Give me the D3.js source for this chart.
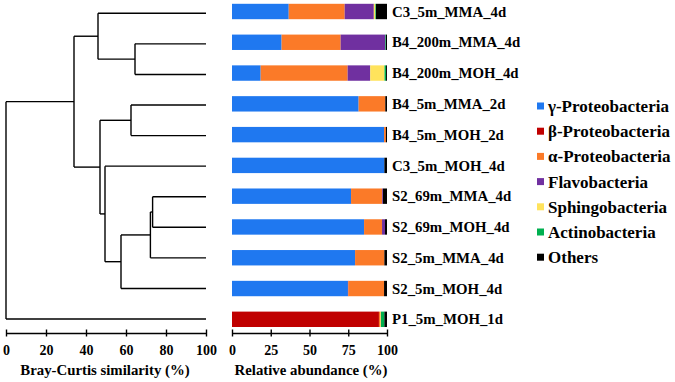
<!DOCTYPE html>
<html>
<head>
<meta charset="utf-8">
<script src="https://cdn.jsdelivr.net/npm/d3@7"></script>
<style>
  body { margin: 0; background: #fff; }
  svg { display: block; font-family: "Liberation Serif", "Times New Roman", serif; font-weight: bold; }
</style>
</head>
<body>
<svg id="chart" width="675" height="382"></svg>
<script>
// samples, top to bottom
var samples = ["C3_5m_MMA_4d", "B4_200m_MMA_4d", "B4_200m_MOH_4d", "B4_5m_MMA_2d", "B4_5m_MOH_2d",
  "C3_5m_MOH_4d", "S2_69m_MMA_4d", "S2_69m_MOH_4d", "S2_5m_MMA_4d", "S2_5m_MOH_4d", "P1_5m_MOH_1d"];

var groups = ["γ-Proteobacteria", "β-Proteobacteria", "α-Proteobacteria", "Flavobacteria",
  "Sphingobacteria", "Actinobacteria", "Others"];
var colors = ["#1f78f0", "#c00000", "#fb7a28", "#7030a0", "#ffe35c", "#00b050", "#000000"];

// relative abundance (%) per group, same order as samples
var gamma   = [36.6, 32.0, 18.5, 81.7, 98.1, 98.3, 76.8, 85.2, 79.4, 74.8, 0];
var beta    = [0, 0, 0, 0, 0, 0, 0, 0, 0, 0.3, 94.8];
var alpha   = [36.1, 38.1, 56.1, 17.2, 1.2, 0, 20.1, 11.6, 18.9, 23.0, 1.0];
var flavo   = [18.8, 28.8, 14.6, 0, 0, 0, 0.5, 1.9, 0, 0, 0];
var sphingo = [1.0, 0, 9.2, 0, 0, 0, 0, 0, 0, 0, 0.3];
var actino  = [0.4, 0.4, 1.0, 0, 0, 0, 0, 0, 0, 0, 2.2];
var others  = [7.1, 0.7, 0.6, 1.1, 0.7, 1.7, 2.6, 1.3, 1.7, 1.9, 1.7];

// Bray-Curtis clustering (merge similarity %)
var dendro = {h: 0, c: [
  {h: 34, c: [
    {h: 46, c: ["C3_5m_MMA_4d", {h: 64.5, c: ["B4_200m_MMA_4d", "B4_200m_MOH_4d"]}]},
    {h: 47, c: [
      {h: 62.5, c: ["B4_5m_MMA_2d", "B4_5m_MOH_2d"]},
      {h: 49.5, c: ["C3_5m_MOH_4d",
        {h: 57.5, c: [
          {h: 72.2, c: [{h: 73.3, c: ["S2_69m_MMA_4d", "S2_69m_MOH_4d"]}, "S2_5m_MMA_4d"]},
          "S2_5m_MOH_4d"]}]}]}]},
  "P1_5m_MOH_1d"]};

var simTicks = [0, 20, 40, 60, 80, 100];
var abTicks = [0, 25, 50, 75, 100];

var data = samples.map(function(s, i) {
  return {sample: s, "γ-Proteobacteria": gamma[i], "β-Proteobacteria": beta[i], "α-Proteobacteria": alpha[i],
    "Flavobacteria": flavo[i], "Sphingobacteria": sphingo[i], "Actinobacteria": actino[i], "Others": others[i]};
});

var svg = d3.select("#chart");

var y = d3.scaleBand().domain(samples).range([3.8, 327]).paddingInner(0.5).paddingOuter(0);
var yLeaf = d3.scalePoint().domain(samples).range([13.3, 319]);
var xd = d3.scaleLinear().domain([0, 100]).range([6, 206]);
var xb = d3.scaleLinear().domain([0, 100]).range([232, 387]);
var z = d3.scaleOrdinal().domain(groups).range(colors);
var axisY = 333;

// dendrogram
var dg = svg.append("g").attr("fill", "none").attr("stroke", "#000").attr("stroke-width", 1.4);
function nodeY(n) {
  if (typeof n === "string") return yLeaf(n);
  var ys = n.c.map(nodeY);
  return (ys[0] + ys[ys.length - 1]) / 2;
}
function nodeH(n) { return typeof n === "string" ? 100 : n.h; }
function drawNode(n) {
  if (typeof n === "string") return;
  var ys = n.c.map(nodeY);
  dg.append("line").attr("x1", xd(n.h)).attr("x2", xd(n.h)).attr("y1", ys[0]).attr("y2", ys[ys.length - 1]);
  n.c.forEach(function(ch, i) {
    dg.append("line").attr("x1", xd(n.h)).attr("x2", xd(nodeH(ch))).attr("y1", ys[i]).attr("y2", ys[i]);
    drawNode(ch);
  });
}
drawNode(dendro);

// stacked bars
var series = d3.stack().keys(groups)(data);
svg.append("g").selectAll("g")
  .data(series)
  .enter().append("g")
    .attr("fill", function(d) { return z(d.key); })
  .selectAll("rect")
  .data(function(d) { return d; })
  .enter().append("rect")
    .attr("x", function(d) { return xb(d[0]); })
    .attr("width", function(d) { return xb(d[1]) - xb(d[0]); })
    .attr("y", function(d) { return y(d.data.sample); })
    .attr("height", y.bandwidth());

// sample labels
svg.append("g").selectAll("text")
  .data(samples)
  .enter().append("text")
    .attr("x", 392)
    .attr("y", function(d) { return y(d) + y.bandwidth() / 2; })
    .attr("dy", "0.35em")
    .attr("font-size", 14.8)
    .text(function(d) { return d; });

// axes
function styleAxis(g) {
  g.select(".domain").attr("stroke-width", 1.4);
  g.selectAll(".tick line").attr("y1", -3.5).attr("y2", 3.5).attr("stroke-width", 1.4);
  g.selectAll(".tick text").attr("y", 22).attr("dy", 0).attr("font-size", 14)
    .attr("font-family", "Liberation Serif, serif").attr("font-weight", "bold").attr("fill", "#000");
}
svg.append("g")
  .attr("transform", "translate(0," + axisY + ")")
  .call(d3.axisBottom(xd).tickValues(simTicks).tickSizeOuter(0))
  .call(styleAxis);
svg.append("g")
  .attr("transform", "translate(0," + axisY + ")")
  .call(d3.axisBottom(xb).tickValues(abTicks).tickSizeOuter(0))
  .call(styleAxis);

svg.append("text").attr("x", 105).attr("y", 375).attr("text-anchor", "middle")
  .attr("font-size", 14.8).text("Bray-Curtis similarity (%)");
svg.append("text").attr("x", 311).attr("y", 375).attr("text-anchor", "middle")
  .attr("font-size", 14.8).text("Relative abundance (%)");

// legend
var legend = svg.append("g").selectAll("g")
  .data(groups)
  .enter().append("g")
    .attr("transform", function(d, i) { return "translate(537," + (106 + i * 25.2) + ")"; });
legend.append("rect").attr("x", 0).attr("y", -3.5).attr("width", 7).attr("height", 7)
  .attr("fill", function(d) { return z(d); });
legend.append("text").attr("x", 11).attr("dy", "0.35em").attr("font-size", 17)
  .text(function(d) { return d; });
</script>
</body>
</html>
